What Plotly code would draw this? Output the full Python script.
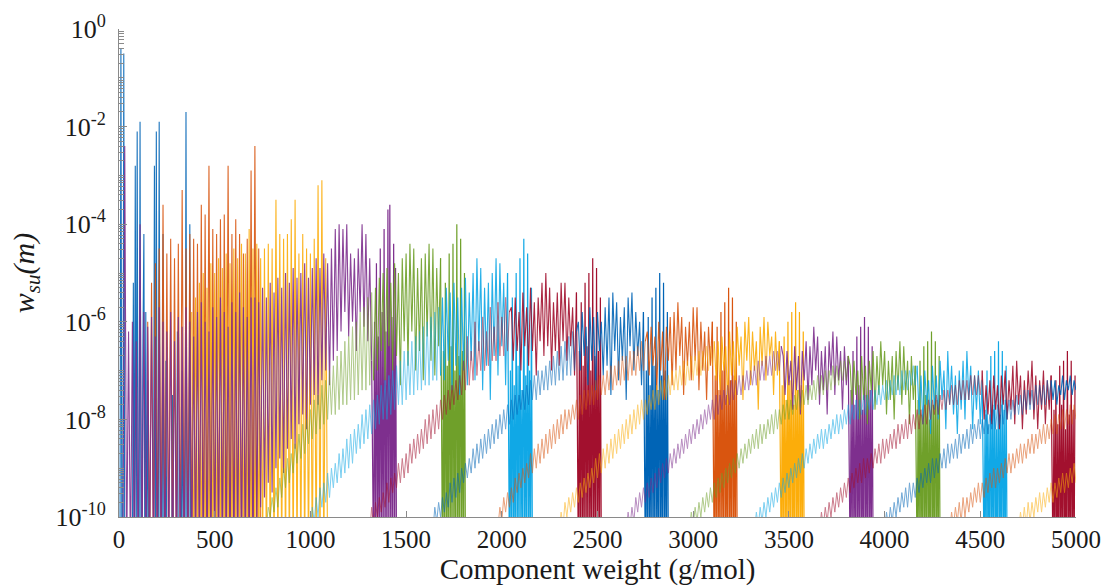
import plotly.graph_objects as go

# ---------------------------------------------------------------------------
# Data read from the chart.  Every series is sampled on a regular grid of
# component weights (first weight X0, spacing STEP, in g/mol).
# Values are log10(w_su) * 10 ; -110 means "below the 1e-10 floor".
# TAIL = rising low-level part, MAIN = spiky plateau,
# BAND = dense block that closes each series (sampled every BAND_STEP g/mol).
# ---------------------------------------------------------------------------
BAND_STEP = 5

S01_X0, S01_STEP = 0, 5
S01_MAIN = [-110, -110, -4, -110, -110, -5, -110,
            -110, -110, -110, -110, -110, -110, -110, -110,
            -52, -110, -28, -110, -21, -110, -110, -19, -110, -110, -65, -42, -110, -58, -110, -72,
            -110, -110, -110, -110, -110, -110,
            -28, -110, -21, -110, -110, -19, -110, -110, -110, -42, -110, -110, -68, -110,
            -110, -110, -110, -110, -110,
            -75, -110, -110, -110, -110, -62, -110, -110, -110, -110, -70, -110, -110, -110,
            -17, -110, -110, -110, -40, -110, -110]

S02_X0, S02_STEP = 150, 10
S02_MAIN = [-60, -110, -52, -110, -48, -110, -45, -110, -36, -110, -46, -110, -43, -110, -47, -110,
            -44, -110, -33, -110, -45, -110, -42, -110, -43, -110, -44, -110, -36, -110, -38, -110,
            -28, -110, -41, -110, -42, -110, -39, -110, -38, -110, -28, -110, -42, -110, -39, -110,
            -42, -110, -46, -110, -43, -110, -29, -110, -24, -110, -45, -110]

S03_X0, S03_STEP = 380, 10
S03_MAIN = [-58, -110, -55, -110, -52, -110, -50, -110, -53, -110, -48, -110, -50, -110, -47, -110,
            -49, -110, -46, -110, -48, -110, -45, -110, -47, -110, -44, -110, -46, -110, -41, -110,
            -45, -110, -44, -110, -47, -110, -45, -110, -44, -110, -45, -110, -35, -110, -42, -110,
            -43, -110, -42, -110, -39, -110, -35, -110, -46, -110, -42, -110, -45, -110, -46, -110,
            -43, -110, -32, -110, -31, -110, -47, -110]

S04_X0, S04_STEP = 0, 10
S04_MAIN = [-110, -110, -110, -24, -110, -62, -110, -60, -110, -64, -110, -40, -110,
            -58, -110, -61, -110, -59, -110, -63, -110, -57, -110, -60, -110, -62, -110, -58, -110,
            -64, -110, -59, -110, -61, -110, -57, -110, -60, -110, -63, -110, -58, -110, -56, -110,
            -60, -110, -62, -110, -57, -110, -59, -110, -55, -110, -58, -110, -61, -110, -56, -110,
            -58, -110, -54, -110, -57, -110, -59, -110, -55,
            -110, -55, -102, -56, -98, -53, -96, -55, -93, -52, -95, -54, -90, -51, -88, -53,
            -91, -50, -86, -52, -84, -49, -86, -51, -81, -50, -79, -48, -82, -51, -77, -49,
            -75, -47, -77, -49, -72, -46, -70, -48, -73, -45, -68, -41, -66, -40,
            -62, -41, -58, -40, -63, -46, -60, -47, -66, -45, -58, -40, -61, -42, -64, -47, -68]
S04_BAND = [-110, -60, -110, -48, -110, -63, -110, -45, -110, -58, -110, -41, -110, -62, -110, -37,
            -110, -36, -110, -59, -110, -44, -110, -49, -110]

S05_X0, S05_STEP = 770, 10
S05_TAIL = [-102, -98, -100, -96, -99, -94, -98, -92, -96, -90, -94, -88, -93, -87, -91, -85,
            -89, -83, -88, -81, -87, -80, -85, -78, -84, -76, -83, -75, -82, -73, -81, -72,
            -80, -70, -79, -69, -79, -67, -78, -66, -77, -64, -77, -63, -76, -61, -76, -60,
            -75, -58, -74, -57, -74, -55, -73, -54, -72]
S05_MAIN = [-53, -70, -51, -66, -50, -72, -49, -65, -52, -70, -48, -67, -50, -73, -47, -64,
            -46, -69, -44, -62, -45, -70, -49, -66, -47, -72, -46, -63, -44, -68, -45, -71,
            -49, -65, -47]
S05_BAND = [-110, -66, -110, -52, -110, -69, -110, -46, -110, -65, -110, -44, -110, -70, -110, -40,
            -110, -67, -110, -43, -110, -66, -110, -50, -110]

S06_X0, S06_STEP = 1000, 10
S06_TAIL = [-103, -98, -101, -96, -100, -94, -98, -93, -97, -91, -96, -90, -94, -89, -93, -87,
            -92, -86, -91, -84, -90, -83, -89, -82, -87, -81, -86, -79, -85, -78, -84, -77,
            -83, -76, -82, -75, -81, -73, -80, -72, -80, -71, -79, -70, -78, -69, -77, -68,
            -77, -66, -76, -66, -75, -64, -75, -63, -74, -62, -74, -61, -73, -60, -73, -59,
            -72, -58, -72, -57, -71]
S06_MAIN = [-55, -72, -53, -68, -54, -74, -52, -69, -55, -75, -53, -70, -51, -73, -54, -68,
            -50, -72, -47, -66, -49, -74, -53, -69, -52, -76, -50, -67, -47, -71, -48, -65,
            -52, -73, -50]
S06_BAND = [-110, -70, -110, -55, -110, -73, -110, -50, -110, -69, -110, -47, -110, -74, -110, -43,
            -110, -71, -110, -46, -110, -70, -110, -53, -110]

S07_X0, S07_STEP = 1310, 10
S07_TAIL = [-103, -98, -102, -97, -100, -96, -99, -95, -98, -93, -97, -92, -95, -91, -94, -89,
            -93, -88, -92, -87, -91, -85, -89, -84, -88, -83, -87, -82, -86, -80, -85, -79,
            -84, -78, -83, -77, -82, -76, -80, -75, -79, -74, -78, -73, -77, -72, -76, -71,
            -75, -68, -74, -63, -73, -66, -72, -60, -71, -64, -70, -59, -70, -62, -69, -57,
            -68, -61, -68, -56, -67, -59, -67, -55, -66, -58]
S07_MAIN = [-57, -68, -55, -66, -58, -70, -54, -65, -57, -69, -53, -66, -56, -71, -55, -64,
            -52, -67, -50, -65, -53, -70, -56, -66, -54, -69, -52, -64, -52, -68, -55, -65,
            -57, -71, -54]
S07_BAND = [-110, -66, -110, -56, -110, -69, -110, -52, -110, -65, -110, -50, -110, -70, -110, -47,
            -110, -67, -110, -49, -110, -66, -110, -55, -110]

S08_X0, S08_STEP = 1640, 10
S08_TAIL = [-103, -98, -101, -97, -100, -96, -99, -95, -98, -93, -97, -92, -96, -91, -95, -90,
            -93, -89, -92, -88, -91, -86, -90, -85, -89, -84, -88, -83, -87, -82, -86, -81,
            -85, -80, -84, -79, -83, -78, -82, -77, -81, -76, -80, -75, -79, -75, -78, -74,
            -78, -73, -77, -72, -76, -71, -76, -70, -75, -70, -74, -69, -74, -68, -73, -67,
            -73, -66, -72, -65, -72, -64, -71, -63, -71, -62, -70, -62]
S08_MAIN = [-60, -70, -58, -67, -61, -73, -57, -68, -59, -74, -58, -66, -60, -71, -57, -69,
            -55, -75, -54, -66, -56, -72, -59, -68, -57, -76, -55, -65, -54, -70, -58, -67,
            -60, -73, -58]
S08_BAND = [-110, -70, -110, -59, -110, -73, -110, -55, -110, -69, -110, -53, -110, -74, -110, -50,
            -110, -71, -110, -52, -110, -70, -110, -58, -110]

S09_X0, S09_STEP = 1980, 10
S09_TAIL = [-102, -98, -101, -96, -99, -95, -98, -94, -97, -92, -95, -91, -94, -90, -93, -89,
            -92, -87, -91, -86, -90, -85, -89, -84, -88, -83, -87, -82, -86, -81, -85, -80,
            -84, -79, -83, -78, -82, -78, -81, -77, -80, -76, -80, -75, -79, -74, -78, -74,
            -77, -73, -77, -72, -76, -71, -75, -71, -75, -70, -74, -69, -74, -69, -73, -68,
            -73, -67, -72, -67, -72, -66, -71, -66, -71, -65, -70, -64, -70, -64]
S09_MAIN = [-62, -71, -61, -69, -63, -74, -60, -70, -62, -76, -61, -68, -59, -73, -58, -70,
            -56, -67, -59, -75, -61, -69, -60, -72, -57, -68, -57, -74, -60, -70, -62, -76,
            -61, -69, -60]
S09_BAND = [-110, -71, -110, -61, -110, -74, -110, -58, -110, -70, -110, -56, -110, -75, -110, -53,
            -110, -72, -110, -55, -110, -71, -110, -60, -110]

S10_X0, S10_STEP = 2300, 10
S10_TAIL = [-103, -99, -102, -97, -100, -96, -99, -95, -98, -94, -97, -93, -96, -92, -95, -91,
            -94, -90, -93, -88, -92, -87, -91, -86, -90, -85, -89, -84, -88, -83, -87, -82,
            -86, -81, -85, -80, -84, -79, -83, -78, -82, -77, -81, -76, -80, -76, -79, -75,
            -78, -74, -78, -73, -77, -72, -76, -72, -76, -71, -75, -70, -74, -70, -74, -69,
            -73, -68, -73, -68, -72, -67, -72, -67, -71, -66, -71, -66, -70, -65, -70, -65,
            -69, -64]
S10_MAIN = [-72, -64, -74, -63, -70, -65, -77, -62, -71, -64, -75, -61, -69, -63, -76, -60,
            -68, -59, -73, -62, -70, -64, -78, -61, -69, -59, -72, -60, -67, -63, -75, -62,
            -71, -64]
S10_BAND = [-110, -73, -110, -63, -110, -76, -110, -60, -110, -72, -110, -58, -110, -77, -110, -56,
            -110, -74, -110, -58, -110, -73, -110, -62, -110]

S11_X0, S11_STEP = 2650, 10
S11_TAIL = [-103, -99, -102, -98, -101, -96, -99, -95, -98, -94, -97, -93, -96, -92, -95, -91,
            -94, -90, -93, -89, -92, -88, -91, -87, -90, -86, -89, -85, -88, -84, -87, -83,
            -86, -82, -85, -81, -84, -80, -83, -79, -82, -78, -81, -77, -80, -76, -80, -75,
            -79, -75, -78, -74, -77, -73, -77, -72, -76, -72, -75, -71, -75, -71, -74, -70,
            -74, -70, -73, -69, -73, -68, -72, -68, -72, -67, -71, -67, -71, -66, -70, -66,
            -70, -65]
S11_MAIN = [-67, -75, -66, -73, -68, -78, -65, -74, -67, -79, -66, -72, -64, -76, -65, -73,
            -61, -70, -63, -77, -66, -74, -65, -79, -64, -71, -62, -75, -63, -72, -66, -78,
            -65, -73, -67]
S11_BAND = [-110, -74, -110, -66, -110, -77, -110, -63, -110, -73, -110, -61, -110, -78, -110, -59,
            -110, -75, -110, -61, -110, -74, -110, -65, -110]

S12_X0, S12_STEP = 2980, 10
S12_TAIL = [-103, -99, -102, -98, -101, -97, -100, -96, -99, -95, -98, -94, -97, -93, -96, -92,
            -95, -91, -94, -90, -93, -89, -92, -88, -91, -87, -90, -86, -89, -85, -88, -84,
            -87, -83, -86, -82, -86, -81, -85, -81, -84, -80, -83, -79, -83, -78, -82, -78,
            -81, -77, -80, -76, -80, -76, -79, -75, -78, -74, -78, -74, -77, -73, -77, -73,
            -76, -72, -76, -71, -75, -71, -75, -70, -74, -70, -74, -69, -73, -69, -73, -68,
            -72, -68, -72, -67]
S12_MAIN = [-69, -77, -68, -75, -70, -80, -67, -76, -69, -81, -68, -74, -66, -78, -67, -75,
            -64, -73, -66, -79, -68, -76, -67, -80, -66, -74, -64, -77, -65, -75, -68, -81,
            -67, -76, -69]
S12_BAND = [-110, -76, -110, -68, -110, -79, -110, -65, -110, -75, -110, -64, -110, -80, -110, -62,
            -110, -77, -110, -64, -110, -76, -110, -67, -110]

S13_X0, S13_STEP = 3320, 10
S13_TAIL = [-103, -99, -102, -98, -101, -97, -100, -96, -99, -95, -98, -94, -97, -93, -96, -92,
            -95, -91, -94, -90, -93, -89, -92, -88, -91, -87, -90, -86, -89, -85, -88, -84,
            -87, -83, -86, -82, -86, -82, -85, -81, -84, -80, -83, -79, -83, -79, -82, -78,
            -81, -77, -81, -77, -80, -76, -80, -76, -79, -75, -79, -75, -78, -74, -78, -74,
            -77, -73, -77, -73, -76, -72, -76, -72, -75, -71, -75, -71, -75, -70, -74, -70,
            -74, -70, -73, -69, -73, -69]
S13_MAIN = [-79, -71, -81, -70, -77, -72, -83, -69, -78, -71, -80, -68, -76, -70, -82, -66,
            -77, -69, -79, -71, -83, -70, -78, -68, -80, -66, -76, -69, -82, -71, -78, -70,
            -81, -72]
S13_BAND = [-110, -78, -110, -70, -110, -81, -110, -67, -110, -77, -110, -66, -110, -82, -110, -64,
            -110, -79, -110, -66, -110, -78, -110, -69, -110]

S14_X0, S14_STEP = 3660, 10
S14_TAIL = [-103, -99, -102, -98, -101, -97, -100, -96, -99, -95, -98, -94, -97, -93, -96, -92,
            -95, -91, -94, -90, -93, -89, -93, -88, -92, -88, -91, -87, -90, -86, -89, -85,
            -89, -84, -88, -84, -87, -83, -86, -82, -86, -81, -85, -81, -84, -80, -84, -79,
            -83, -79, -82, -78, -82, -78, -81, -77, -81, -76, -80, -76, -79, -75, -79, -75,
            -78, -74, -78, -74, -77, -73, -77, -73, -77, -72, -76, -72, -76, -72, -76, -71,
            -75, -71, -75, -71, -75, -70]
S14_MAIN = [-80, -73, -79, -72, -81, -71, -78, -73, -82, -71, -77, -70, -80, -72, -78, -69,
            -81, -68, -77, -71, -82, -72, -79, -70, -77, -68, -80, -71, -82, -72, -78, -70,
            -81, -72, -78, -71]
S14_BAND = [-110, -78, -110, -72, -110, -81, -110, -69, -110, -77, -110, -68, -110, -82, -110, -66,
            -110, -79, -110, -68, -110, -78, -110, -71]

S15_X0, S15_STEP = 4000, 10
S15_TAIL = [-103, -99, -102, -98, -101, -97, -100, -96, -99, -95, -98, -94, -98, -93, -97, -93,
            -96, -92, -95, -91, -94, -90, -93, -89, -93, -88, -92, -88, -91, -87, -90, -86,
            -90, -85, -89, -85, -88, -84, -88, -83, -87, -83, -86, -82, -86, -81, -85, -81,
            -84, -80, -84, -80, -83, -79, -83, -79, -82, -78, -82, -77, -81, -77, -81, -76,
            -80, -76, -80, -76, -79, -75, -79, -75, -79, -74, -78, -74, -78, -74, -78, -73,
            -77, -73, -77, -73, -77, -72, -76, -72]
S15_MAIN = [-76, -72, -77, -73, -75, -71, -76, -72, -74, -71, -75, -72, -74]

S16_X0, S16_STEP = 4340, 10
S16_TAIL = [-103, -99, -102, -98, -101, -97, -101, -96, -100, -96, -99, -95, -98, -94, -97, -93,
            -97, -93, -96, -92, -95, -91, -94, -90, -94, -90, -93, -89, -92, -88, -91, -87,
            -91, -87, -90, -86, -89, -85, -89, -85, -88, -84, -87, -83, -87, -83, -86, -82,
            -85, -81, -85, -81, -84, -80, -83, -79, -83, -79, -82, -78, -82, -78, -81, -77,
            -81, -77, -80]

S17_X0, S17_STEP = 4700, 10
S17_TAIL = [-103, -99, -102, -98, -102, -97, -101, -97, -100, -96, -99, -95, -99, -95, -98, -94,
            -97, -93, -97, -93, -96, -92, -95, -91, -95, -91, -94, -90, -93, -89, -93]

X_TICK_VALUES = [0, 500, 1000, 1500, 2000, 2500, 3000, 3500, 4000, 4500, 5000]
Y_LABELED = [0, -2, -4, -6, -8, -10]
Y_UNLABELED = [-1, -3, -5, -7, -9]

BLUE, ORANGE, YELLOW, PURPLE = "#0064B6", "#D9550F", "#FCAD0A", "#7E2F8E"
GREEN, LBLUE, DRED = "#6FA02A", "#10A8E6", "#A2102E"

# (first weight, spacing, tail, main, band, colour)
SERIES = [
    (S01_X0, S01_STEP, [], S01_MAIN, [], BLUE),
    (S02_X0, S02_STEP, [], S02_MAIN, [], ORANGE),
    (S03_X0, S03_STEP, [], S03_MAIN, [], YELLOW),
    (S04_X0, S04_STEP, [], S04_MAIN, S04_BAND, PURPLE),
    (S05_X0, S05_STEP, S05_TAIL, S05_MAIN, S05_BAND, GREEN),
    (S06_X0, S06_STEP, S06_TAIL, S06_MAIN, S06_BAND, LBLUE),
    (S07_X0, S07_STEP, S07_TAIL, S07_MAIN, S07_BAND, DRED),
    (S08_X0, S08_STEP, S08_TAIL, S08_MAIN, S08_BAND, BLUE),
    (S09_X0, S09_STEP, S09_TAIL, S09_MAIN, S09_BAND, ORANGE),
    (S10_X0, S10_STEP, S10_TAIL, S10_MAIN, S10_BAND, YELLOW),
    (S11_X0, S11_STEP, S11_TAIL, S11_MAIN, S11_BAND, PURPLE),
    (S12_X0, S12_STEP, S12_TAIL, S12_MAIN, S12_BAND, GREEN),
    (S13_X0, S13_STEP, S13_TAIL, S13_MAIN, S13_BAND, LBLUE),
    (S14_X0, S14_STEP, S14_TAIL, S14_MAIN, S14_BAND, DRED),
    (S15_X0, S15_STEP, S15_TAIL, S15_MAIN, [], BLUE),
    (S16_X0, S16_STEP, S16_TAIL, [], [], ORANGE),
    (S17_X0, S17_STEP, S17_TAIL, [], [], YELLOW),
]

FONT = "Liberation Serif, Times New Roman, serif"
TXT = "#1a1a1a"
AXIS_GREY = "#8a8a8a"

fig = go.Figure()


def to_w(v):
    return 10 ** (v / 10.0)


def add_line(xs, vs, color, width, opacity):
    fig.add_trace(go.Scatter(
        x=xs, y=[to_w(v) for v in vs], mode="lines",
        line=dict(color=color, width=width, simplify=False),
        opacity=opacity, hoverinfo="skip", showlegend=False))


for x0, step, tail, main, band, color in SERIES:
    xs_all = [x0 + step * i for i in range(len(tail) + len(main))]
    vs_all = list(tail) + list(main)
    n_t = len(tail)
    if n_t:
        add_line(xs_all[:n_t], vs_all[:n_t], color, 1.0, 0.55)
    if main:
        k0 = max(n_t - 1, 0)
        add_line(xs_all[k0:], vs_all[k0:], color, 1.1, 0.9)
    if band:
        bx0 = x0 + step * len(vs_all)
        bxs = [xs_all[-1]] + [bx0 + BAND_STEP * i for i in range(len(band))]
        add_line(bxs, [vs_all[-1]] + band, color, 1.2, 1.0)

y_tickvals = [10.0 ** d for d in Y_LABELED]
y_ticktext = ["10<sup>%d</sup>" % d for d in Y_LABELED]
y_minor = sorted([10.0 ** d for d in Y_UNLABELED] +
                 [m * 10.0 ** d for d in Y_LABELED[1:] + Y_UNLABELED for m in range(2, 10)])

fig.update_layout(
    width=1104, height=587,
    margin=dict(l=119, r=28, t=29, b=70),
    paper_bgcolor="white", plot_bgcolor="white",
    showlegend=False, hovermode=False,
    font=dict(family=FONT, color=TXT),
    xaxis=dict(
        range=[0, 5000], tickmode="array", tickvals=X_TICK_VALUES,
        ticks="inside", ticklen=6, tickcolor=AXIS_GREY, tickwidth=1,
        showline=True, linecolor=AXIS_GREY, linewidth=1, mirror=False,
        showgrid=False, zeroline=False, automargin=False,
        tickfont=dict(family=FONT, size=25, color=TXT),
        ticklabelstandoff=0,
        title=dict(text="Component weight (g/mol)",
                   font=dict(family=FONT, size=29, color=TXT), standoff=2),
    ),
    yaxis=dict(
        type="log", range=[-10, 0], tickmode="array",
        tickvals=y_tickvals, ticktext=y_ticktext,
        ticks="inside", ticklen=8, tickcolor=AXIS_GREY, tickwidth=1,
        minor=dict(tickmode="array", tickvals=y_minor, ticks="inside",
                   ticklen=5, tickcolor=AXIS_GREY, showgrid=False),
        showline=True, linecolor=AXIS_GREY, linewidth=1, mirror=False,
        showgrid=False, zeroline=False, automargin=False,
        tickfont=dict(family=FONT, size=26, color=TXT),
        ticklabelstandoff=7,
        title=dict(text="<i>w</i><sub><i>su</i></sub><i>(m)</i>",
                   font=dict(family=FONT, size=30, color=TXT), standoff=12),
    ),
)

fig.write_html("out.html")
